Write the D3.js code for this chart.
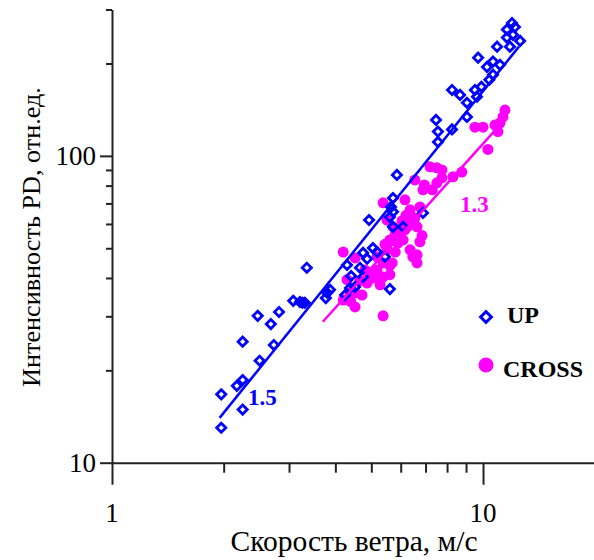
<!DOCTYPE html>
<html>
<head>
<meta charset="utf-8">
<script src="https://cdn.jsdelivr.net/npm/d3@7"></script>
<style>
    html, body { margin: 0; padding: 0; background: #fff; }
    svg { display: block; }
    text { font-family: 'Liberation Serif', 'Times New Roman', serif; }
</style>
</head>
<body>
<div id="chart"></div>
<script>
(function() {
    'use strict';

    // UP series: [wind speed m/s, PD intensity]
    const upData = [
        [1.97, 13.0], [1.97, 16.7], [2.25, 14.9], [2.17, 17.8], [2.25, 18.6], [2.25, 24.8],
        [2.50, 21.5], [2.73, 24.2], [2.47, 30.1], [2.68, 28.3], [2.82, 31.0], [3.08, 33.7],
        [3.21, 33.4], [3.31, 33.2], [3.35, 43.2], [3.77, 34.4], [3.87, 36.6], [4.30, 44.1],
        [4.25, 35.2], [4.41, 40.6], [4.52, 37.4], [4.66, 43.2], [4.75, 40.3], [4.87, 46.2],
        [4.75, 48.3], [5.05, 50.1], [5.18, 48.6], [5.44, 46.9], [4.93, 61.8], [5.61, 36.8],
        [5.72, 72.9], [5.86, 86.7], [5.65, 68.2], [5.72, 65.7], [5.61, 63.2], [5.72, 58.7],
        [6.09, 58.7], [6.89, 65.2], [7.47, 131], [7.56, 120], [7.56, 111], [8.25, 122],
        [9.05, 134], [9.05, 149], [8.25, 164], [8.67, 158], [9.51, 164], [9.90, 168],
        [9.63, 156], [10.4, 177], [10.64, 184], [10.25, 195], [10.64, 203], [11.11, 198],
        [9.70, 209], [10.91, 227], [11.82, 227], [11.60, 243], [12.59, 237], [12.04, 248],
        [11.60, 258], [11.97, 271], [12.19, 263], [4.38, 37.1], [3.80, 35.8], [3.26, 33.2]
    ];

    // CROSS series
    const crossData = [
        [11.46, 141], [11.32, 134], [11.11, 128], [10.77, 126], [10.0, 124], [9.51, 124],
        [10.97, 120], [10.31, 105], [8.77, 88.6], [8.30, 85.5], [7.20, 92.1], [7.51, 91.4],
        [7.75, 90.0], [7.75, 84.8], [7.51, 81.7], [6.95, 80.4], [6.89, 77.5], [6.55, 83.5],
        [7.30, 77.5], [6.16, 71.9], [5.38, 70.3], [6.76, 68.2], [6.36, 60.5], [6.55, 62.8],
        [5.86, 56.5], [6.16, 57.4], [6.64, 58.7], [5.61, 53.2], [5.90, 52.0], [6.76, 52.5],
        [5.51, 49.4], [5.18, 46.9], [6.47, 46.9], [6.64, 44.8], [4.20, 48.6], [4.52, 46.5],
        [5.38, 44.8], [5.18, 42.5], [5.69, 44.8], [5.05, 40.0], [4.87, 38.5], [4.52, 35.8],
        [4.72, 35.2], [4.52, 32.2], [5.38, 30.1], [4.96, 41.6], [4.30, 39.5], [4.20, 33.9],
        [4.38, 35.8], [4.66, 39.2], [4.80, 42.5], [5.28, 38.0], [5.61, 41.0], [4.40, 33.5],
        [5.80, 55.5], [6.05, 61.5], [6.36, 66.7], [5.44, 51.5], [6.64, 47.6],
        [5.72, 58.7], [6.25, 58.7], [6.47, 60.5], [6.09, 53.2], [5.80, 48.6], [6.36, 49.4],
        [5.61, 43.9], [5.38, 40.3], [5.51, 61.8], [5.98, 54.8], [6.20, 64.0], [6.85, 55.0]
    ];

    // power-law fit lines, end points
    const upFit = [[1.95, 14.0], [12.5, 227]];
    const crossFit = [[3.70, 28.8], [10.7, 120]];
    const slopes = ['1.5', '1.3'];

    const xTicks = [1, 2, 3, 4, 5, 6, 7, 8, 9, 10, 20];
    const yTicks = [10, 20, 30, 40, 50, 60, 70, 80, 90, 100, 200, 300];
    const xLabels = [1, 10];
    const yLabels = [10, 100];
    const legendNames = ['UP', 'CROSS'];

    const blue = '#0000ff';
    const pink = '#ff00ff';
    const axisColor = '#222';

    const svg = d3.select('#chart').append('svg')
        .attr('width', 594)
        .attr('height', 560);

    const x = d3.scaleLog().domain([1, 20]).range([112, 594.7]);
    const y = d3.scaleLog().domain([10, 300]).range([462.7, 9.5]);

    // axes ====================================================
    const xAxis = d3.axisBottom(x)
        .tickValues(xTicks)
        .tickSizeOuter(0)
        .tickFormat('');

    const yAxis = d3.axisLeft(y)
        .tickValues(yTicks)
        .tickSizeOuter(0)
        .tickFormat('');

    const gx = svg.append('g')
        .attr('transform', `translate(0,${y(10)})`)
        .call(xAxis);
    gx.selectAll('.tick line')
        .attr('y2', d => xLabels.includes(d) ? 22 : 10);

    const gy = svg.append('g')
        .attr('transform', `translate(${x(1)},0)`)
        .call(yAxis);
    gy.selectAll('.tick line')
        .attr('x2', d => yLabels.includes(d) ? -12 : -6);

    svg.selectAll('.domain, .tick line')
        .attr('stroke', axisColor)
        .attr('stroke-width', 2);

    svg.append('g').selectAll('text').data(xLabels).enter().append('text')
        .attr('x', d => x(d))
        .attr('y', 522)
        .attr('text-anchor', 'middle')
        .style('font-size', '27px')
        .text(d => d);

    svg.append('g').selectAll('text').data(yLabels).enter().append('text')
        .attr('x', 96)
        .attr('y', d => y(d) + 9)
        .attr('text-anchor', 'end')
        .style('font-size', '27px')
        .text(d => d);

    svg.append('text')
        .attr('x', 354)
        .attr('y', 551)
        .attr('text-anchor', 'middle')
        .style('font-size', '29.5px')
        .text('Скорость ветра, м/с');

    svg.append('text')
        .attr('transform', 'translate(40,237) rotate(-90)')
        .attr('text-anchor', 'middle')
        .style('font-size', '26.2px')
        .text('Интенсивность PD, отн.ед.');

    // points ==================================================
    const diamond = d3.symbol().type(d3.symbolSquare).size(42);

    svg.append('g').attr('id', 'cross').selectAll('circle').data(crossData).enter().append('circle')
        .attr('cx', d => x(d[0]))
        .attr('cy', d => y(d[1]))
        .attr('r', 5.5)
        .style('fill', pink);

    svg.append('g').attr('id', 'up').selectAll('path').data(upData).enter().append('path')
        .attr('d', diamond)
        .attr('transform', d => `translate(${x(d[0])},${y(d[1])}) rotate(45)`)
        .style('fill', 'none')
        .style('stroke', blue)
        .style('stroke-width', 2.8);

    // fit lines ===============================================
    const line = d3.line().x(d => x(d[0])).y(d => y(d[1]));

    svg.append('path')
        .datum(crossFit)
        .attr('d', line)
        .style('fill', 'none')
        .style('stroke', pink)
        .style('stroke-width', 2.5);

    svg.append('path')
        .datum(upFit)
        .attr('d', line)
        .style('fill', 'none')
        .style('stroke', blue)
        .style('stroke-width', 2.5);

    svg.append('text')
        .attr('x', 248)
        .attr('y', 405)
        .style('font-size', '23px')
        .style('font-weight', 'bold')
        .style('fill', blue)
        .text(slopes[0]);

    svg.append('text')
        .attr('x', 460)
        .attr('y', 212)
        .style('font-size', '23px')
        .style('font-weight', 'bold')
        .style('fill', pink)
        .text(slopes[1]);

    // legend ==================================================
    const legend = svg.append('g').attr('id', 'legend');

    legend.append('path')
        .attr('d', d3.symbol().type(d3.symbolSquare).size(58))
        .attr('transform', 'translate(486,317) rotate(45)')
        .style('fill', 'none')
        .style('stroke', blue)
        .style('stroke-width', 3);

    legend.append('circle')
        .attr('cx', 486)
        .attr('cy', 365)
        .attr('r', 7.5)
        .style('fill', pink);

    legend.selectAll('text').data(legendNames).enter().append('text')
        .attr('x', (d, i) => i === 0 ? 507 : 503)
        .attr('y', (d, i) => i === 0 ? 323 : 377)
        .style('font-size', '24px')
        .style('font-weight', 'bold')
        .text(d => d);
}());
</script>
</body>
</html>
